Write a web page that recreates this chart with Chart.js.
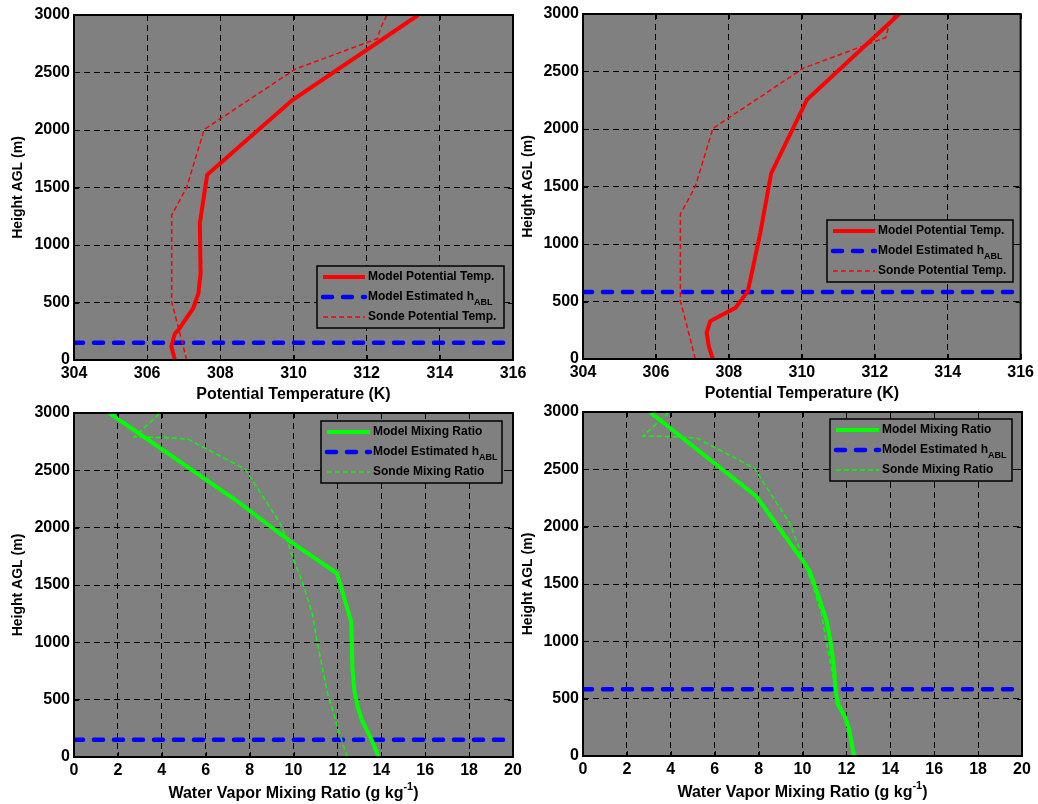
<!DOCTYPE html>
<html>
<head>
<meta charset="utf-8">
<script src="https://cdn.jsdelivr.net/npm/chart.js@4.4.1/dist/chart.umd.min.js"></script>
<style>
    html, body { margin: 0; padding: 0; background: #fff; }
    #wrap { position: relative; width: 1038px; height: 804px; }
    #wrap canvas { position: absolute; left: 0; top: 0; }
</style>
</head>
<body>
<div id="wrap">
    <canvas id="ptLeft" width="1038" height="804"></canvas>
    <canvas id="ptRight" width="1038" height="804"></canvas>
    <canvas id="mrLeft" width="1038" height="804"></canvas>
    <canvas id="mrRight" width="1038" height="804"></canvas>
</div>
<script>
// ---- data (heights in m AGL) ----
const ptModelLeftH = [0, 120, 230, 260, 450, 580, 750, 1190, 1610, 2260, 3000];
const ptModelLeftT = [306.76, 306.66, 306.76, 306.85, 307.26, 307.40, 307.46, 307.44, 307.64, 309.97, 313.41];

const ptModelRightH = [0, 110, 230, 330, 445, 590, 750, 1095, 1615, 2255, 3000];
const ptModelRightT = [307.56, 307.45, 307.39, 307.49, 308.18, 308.52, 308.63, 308.86, 309.16, 310.14, 312.67];

const ptSondeH = [0, 250, 505, 1260, 1500, 2005, 2530, 2795, 2880, 3000];
const ptSondeT = [307.08, 306.88, 306.67, 306.67, 307.08, 307.56, 310.05, 312.30, 312.37, 312.55];

const mrModelLeftH = [0, 146, 320, 437, 583, 757, 1180, 1602, 1880, 2250, 2520, 3000];
const mrModelLeftQ = [13.88, 13.57, 13.12, 12.93, 12.77, 12.69, 12.63, 11.98, 9.85, 7.30, 5.25, 1.61];

const mrModelRightH = [0, 80, 240, 340, 457, 575, 780, 1010, 1185, 1420, 1607, 1680, 2263, 3000];
const mrModelRightQ = [12.33, 12.27, 12.12, 11.94, 11.59, 11.51, 11.43, 11.27, 11.09, 10.68, 10.33, 10.10, 7.90, 3.04];

const mrSondeH = [0, 200, 580, 1020, 1240, 1490, 1890, 2030, 2510, 2770, 2785, 2790, 3000];
const mrSondeQ = [12.45, 12.10, 11.52, 11.06, 10.87, 10.46, 9.70, 9.42, 7.80, 5.22, 4.40, 2.74, 3.93];

const hablLeft = 150;
const hablRight = 582;

const heightTicks = { min: 0, max: 3000, step: 500 };
const ptTicks = { min: 304, max: 316, step: 2 };
const mrTicks = { min: 0, max: 20, step: 2 };

const FONT = "'Liberation Sans', Arial, Helvetica, sans-serif";

function profile(heights, values) {
    return heights.map((h, i) => ({ x: values[i], y: h }));
}

// gray plot area, black frame, inward ticks, x title and a MATLAB-like legend
const matlabAxes = {
    id: 'matlabAxes',
    beforeDraw(chart) {
        const { ctx, chartArea: a } = chart;
        ctx.save();
        ctx.fillStyle = '#808080';
        ctx.fillRect(a.left, a.top, a.right - a.left, a.bottom - a.top);
        ctx.restore();
    },
    afterDraw(chart, args, opts) {
        const { ctx, chartArea: a, scales } = chart;
        ctx.save();

        ctx.strokeStyle = '#000';
        ctx.lineWidth = 1;
        ctx.beginPath();
        scales.x.ticks.forEach(t => {
            const px = Math.round(scales.x.getPixelForValue(t.value)) + 0.5;
            ctx.moveTo(px, a.bottom); ctx.lineTo(px, a.bottom - 5);
            ctx.moveTo(px, a.top); ctx.lineTo(px, a.top + 5);
        });
        scales.y.ticks.forEach(t => {
            const py = Math.round(scales.y.getPixelForValue(t.value)) + 0.5;
            ctx.moveTo(a.left, py); ctx.lineTo(a.left + 5, py);
            ctx.moveTo(a.right, py); ctx.lineTo(a.right - 5, py);
        });
        ctx.stroke();

        ctx.lineWidth = 2;
        ctx.strokeRect(a.left, a.top, a.right - a.left, a.bottom - a.top);

        // x axis title (supports a ^{..} superscript)
        const parts = opts.xTitle.split(/\^\{([^}]*)\}/);
        const big = 'bold 16px ' + FONT;
        const small = 'bold 11px ' + FONT;
        let width = 0;
        parts.forEach((p, i) => {
            ctx.font = i % 2 ? small : big;
            width += ctx.measureText(p).width;
        });
        let x = (a.left + a.right) / 2 - width / 2;
        const base = a.bottom + opts.xTitleGap;
        ctx.fillStyle = '#000';
        ctx.textBaseline = 'alphabetic';
        ctx.textAlign = 'left';
        parts.forEach((p, i) => {
            ctx.font = i % 2 ? small : big;
            ctx.fillText(p, x, i % 2 ? base - 8 : base);
            x += ctx.measureText(p).width;
        });

        // legend
        const lg = opts.legend;
        ctx.fillStyle = '#808080';
        ctx.fillRect(lg.x, lg.y, lg.w, lg.h);
        ctx.lineWidth = 1.5;
        ctx.strokeStyle = '#000';
        ctx.strokeRect(lg.x, lg.y, lg.w, lg.h);
        const rows = [11, 31, 51];
        chart.data.datasets.forEach((ds, i) => {
            const y = lg.y + rows[i];
            ctx.save();
            ctx.strokeStyle = ds.borderColor;
            ctx.lineWidth = ds.borderWidth;
            ctx.lineCap = ds.borderCapStyle || 'butt';
            ctx.setLineDash(ds.borderDash || []);
            ctx.beginPath();
            ctx.moveTo(lg.x + lg.sample[0], y);
            ctx.lineTo(lg.x + lg.sample[1], y);
            ctx.stroke();
            ctx.restore();

            const [main, sub] = ds.label.split('_');
            ctx.fillStyle = '#000';
            ctx.textBaseline = 'middle';
            ctx.font = 'bold 12px ' + FONT;
            let tx = lg.x + lg.sample[1] + 3;
            ctx.fillText(main, tx, y);
            if (sub) {
                tx += ctx.measureText(main).width;
                ctx.font = 'bold 9px ' + FONT;
                ctx.fillText(sub, tx, y + 6);
            }
        });

        ctx.restore();
    }
};

function makePanel(canvasId, cfg) {
    const ctx = document.getElementById(canvasId);
    const p = cfg.plot;
    new Chart(ctx, {
        type: 'scatter',
        data: {
            datasets: [{
                label: cfg.modelLabel,
                data: profile(cfg.modelH, cfg.modelV),
                borderColor: cfg.color,
                borderWidth: 4,
                borderCapStyle: 'butt',
                order: 0
            }, {
                label: 'Model Estimated h_ABL',
                data: [{ x: cfg.xTicks.min, y: cfg.habl }, { x: cfg.xTicks.max, y: cfg.habl }],
                borderColor: '#0000ff',
                borderWidth: 4.5,
                borderDash: [9, 11],
                borderCapStyle: 'round',
                order: 2
            }, {
                label: cfg.sondeLabel,
                data: profile(cfg.sondeH, cfg.sondeV),
                borderColor: cfg.color,
                borderWidth: 1.5,
                borderDash: [5, 3],
                order: 1
            }].map(ds => ({ ...ds, showLine: true, pointRadius: 0, tension: 0, fill: false }))
        },
        options: {
            responsive: false,
            animation: false,
            events: [],
            layout: {
                padding: {
                    left: p.left - cfg.yAxisWidth,
                    top: p.top,
                    right: 1038 - p.right,
                    bottom: 804 - p.bottom - 43
                }
            },
            scales: {
                x: {
                    type: 'linear',
                    min: cfg.xTicks.min,
                    max: cfg.xTicks.max,
                    ticks: {
                        stepSize: cfg.xTicks.step,
                        color: '#000',
                        padding: 4,
                        maxRotation: 0,
                        autoSkip: false,
                        font: { family: FONT, size: 16, weight: 'bold' },
                        callback: v => String(v)
                    },
                    grid: { color: '#000', lineWidth: 1, drawTicks: false },
                    border: { display: false, dash: [6, 4] },
                    afterFit: s => { s.height = 43; }
                },
                y: {
                    type: 'linear',
                    min: heightTicks.min,
                    max: heightTicks.max,
                    ticks: {
                        stepSize: heightTicks.step,
                        color: '#000',
                        padding: 4,
                        font: { family: FONT, size: 16, weight: 'bold' },
                        callback: v => String(v)
                    },
                    grid: { color: '#000', lineWidth: 1, drawTicks: false },
                    border: { display: false, dash: [6, 4] },
                    title: {
                        display: true,
                        text: 'Height AGL (m)',
                        color: '#000',
                        padding: 0,
                        font: { family: FONT, size: 14, weight: 'bold' }
                    },
                    afterFit: s => { s.width = cfg.yAxisWidth; }
                }
            },
            plugins: {
                legend: { display: false },
                tooltip: { enabled: false },
                matlabAxes: {
                    xTitle: cfg.xTitle,
                    xTitleGap: cfg.xTitleGap,
                    legend: cfg.legend
                }
            }
        },
        plugins: [matlabAxes]
    });
}

makePanel('ptLeft', {
    plot: { left: 74, top: 15, right: 513, bottom: 360 },
    yAxisWidth: 64,
    xTicks: ptTicks,
    color: '#ff0000',
    modelLabel: 'Model Potential Temp.',
    sondeLabel: 'Sonde Potential Temp.',
    modelH: ptModelLeftH, modelV: ptModelLeftT,
    sondeH: ptSondeH, sondeV: ptSondeT,
    habl: hablLeft,
    xTitle: 'Potential Temperature (K)',
    xTitleGap: 39,
    legend: { x: 317, y: 266, w: 187, h: 62, sample: [6, 48] }
});

makePanel('ptRight', {
    plot: { left: 583, top: 14, right: 1022, bottom: 359 },
    yAxisWidth: 63,
    xTicks: ptTicks,
    color: '#ff0000',
    modelLabel: 'Model Potential Temp.',
    sondeLabel: 'Sonde Potential Temp.',
    modelH: ptModelRightH, modelV: ptModelRightT,
    sondeH: ptSondeH, sondeV: ptSondeT,
    habl: hablRight,
    xTitle: 'Potential Temperature (K)',
    xTitleGap: 39,
    legend: { x: 827, y: 220, w: 186, h: 62, sample: [6, 48] }
});

makePanel('mrLeft', {
    plot: { left: 74, top: 413, right: 513, bottom: 757 },
    yAxisWidth: 64,
    xTicks: mrTicks,
    color: '#00ff00',
    modelLabel: 'Model Mixing Ratio',
    sondeLabel: 'Sonde Mixing Ratio',
    modelH: mrModelLeftH, modelV: mrModelLeftQ,
    sondeH: mrSondeH, sondeV: mrSondeQ,
    habl: hablLeft,
    xTitle: 'Water Vapor Mixing Ratio (g kg^{-1})',
    xTitleGap: 41,
    legend: { x: 321, y: 421, w: 181, h: 62, sample: [6, 49] }
});

makePanel('mrRight', {
    plot: { left: 583, top: 412, right: 1022, bottom: 756 },
    yAxisWidth: 63,
    xTicks: mrTicks,
    color: '#00ff00',
    modelLabel: 'Model Mixing Ratio',
    sondeLabel: 'Sonde Mixing Ratio',
    modelH: mrModelRightH, modelV: mrModelRightQ,
    sondeH: mrSondeH, sondeV: mrSondeQ,
    habl: hablRight,
    xTitle: 'Water Vapor Mixing Ratio (g kg^{-1})',
    xTitleGap: 41,
    legend: { x: 830, y: 419, w: 182, h: 62, sample: [6, 49] }
});
</script>
</body>
</html>
